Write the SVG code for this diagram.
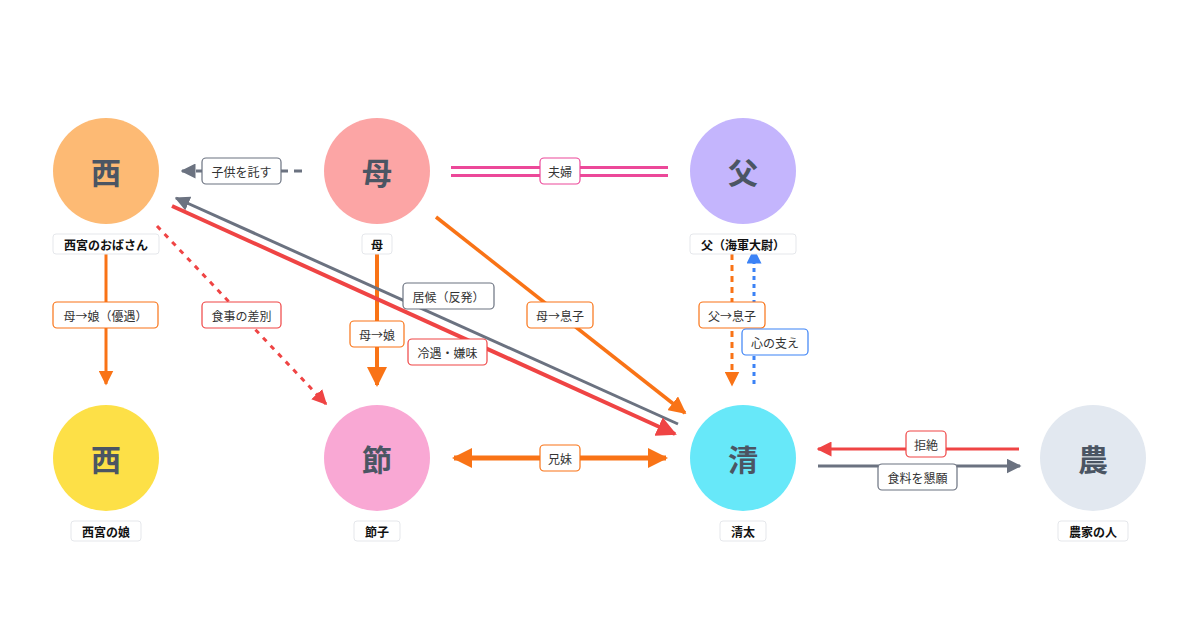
<svg xmlns="http://www.w3.org/2000/svg" width="1200" height="630" viewBox="0 0 1200 630">
<style>
text{font-family:"Noto Sans CJK JP","Noto Sans",sans-serif}
.nt{font-size:30px;font-weight:700;fill:#4b5563;text-anchor:middle;dominant-baseline:central}
.lb{fill:#fff;stroke:#e5e7eb;stroke-width:1}
.lt{font-size:12px;font-weight:700;fill:#111;text-anchor:middle;dominant-baseline:central}
.el{fill:#fff;stroke-width:1.2}
.et{font-size:12px;fill:#333;text-anchor:middle;dominant-baseline:central}
</style>
<defs>
<marker id="ao" viewBox="0 0 10 10" refX="9" refY="5" markerWidth="5" markerHeight="5" orient="auto-start-reverse" markerUnits="strokeWidth"><path d="M0,0L10,5L0,10z" fill="#f97316"/></marker>
<marker id="ao2" viewBox="0 0 10 10" refX="9" refY="5" markerWidth="4" markerHeight="4" orient="auto-start-reverse" markerUnits="strokeWidth"><path d="M0,0L10,5L0,10z" fill="#f97316"/></marker>
<marker id="ar" viewBox="0 0 10 10" refX="9" refY="5" markerWidth="5" markerHeight="5" orient="auto" markerUnits="strokeWidth"><path d="M0,0L10,5L0,10z" fill="#ef4444"/></marker>
<marker id="ag" viewBox="0 0 10 10" refX="9" refY="5" markerWidth="5" markerHeight="5" orient="auto" markerUnits="strokeWidth"><path d="M0,0L10,5L0,10z" fill="#6b7280"/></marker>
<marker id="ab" viewBox="0 0 10 10" refX="9" refY="5" markerWidth="5" markerHeight="5" orient="auto" markerUnits="strokeWidth"><path d="M0,0L10,5L0,10z" fill="#3b82f6"/></marker>
</defs>
<rect width="1200" height="630" fill="#fff"/>
<g id="connectors" fill="none">
<line x1="302" y1="171" x2="182" y2="171" stroke="#6b7280" stroke-width="3" stroke-dasharray="8,6" marker-end="url(#ag)"/>
<line x1="451" y1="167.5" x2="668" y2="167.5" stroke="#ec4899" stroke-width="3"/>
<line x1="451" y1="175.5" x2="668" y2="175.5" stroke="#ec4899" stroke-width="3"/>
<line x1="106" y1="254" x2="106" y2="384" stroke="#f97316" stroke-width="3" marker-end="url(#ao)"/>
<line x1="157" y1="226" x2="326" y2="404" stroke="#ef4444" stroke-width="3" stroke-dasharray="5,6" marker-end="url(#ar)"/>
<line x1="377" y1="254" x2="377" y2="385" stroke="#f97316" stroke-width="4" marker-end="url(#ao)"/>
<line x1="678" y1="424" x2="176" y2="198" stroke="#6b7280" stroke-width="3" marker-end="url(#ag)"/>
<line x1="172" y1="206" x2="675" y2="434" stroke="#ef4444" stroke-width="4" marker-end="url(#ar)"/>
<line x1="436" y1="217" x2="685" y2="413" stroke="#f97316" stroke-width="3.5" marker-end="url(#ao)"/>
<line x1="732" y1="254" x2="732" y2="385" stroke="#f97316" stroke-width="3" stroke-dasharray="6,5" marker-end="url(#ao)"/>
<line x1="754" y1="384" x2="754" y2="250" stroke="#3b82f6" stroke-width="3" stroke-dasharray="4,4" marker-end="url(#ab)"/>
<line x1="454" y1="458" x2="666" y2="458" stroke="#f97316" stroke-width="5" marker-start="url(#ao2)" marker-end="url(#ao2)"/>
<line x1="1019" y1="449" x2="818" y2="449" stroke="#ef4444" stroke-width="3" marker-end="url(#ar)"/>
<line x1="818" y1="466" x2="1020" y2="466" stroke="#6b7280" stroke-width="3" marker-end="url(#ag)"/>
</g>
<g id="edge-labels">
<rect class="el" x="202" y="158" width="79" height="26" rx="4" stroke="#6b7280"/><text class="et" x="241.5" y="171">子供を託す</text>
<rect class="el" x="540" y="158" width="40" height="26" rx="4" stroke="#ec4899"/><text class="et" x="560" y="171">夫婦</text>
<rect class="el" x="53" y="302" width="105" height="26" rx="4" stroke="#f97316"/><text class="et" x="105.5" y="315">母→娘（優遇）</text>
<rect class="el" x="202" y="302" width="79" height="26" rx="4" stroke="#ef4444"/><text class="et" x="241.5" y="315">食事の差別</text>
<rect class="el" x="350" y="321" width="54" height="26" rx="4" stroke="#f97316"/><text class="et" x="377" y="334">母→娘</text>
<rect class="el" x="403" y="283" width="91" height="26" rx="4" stroke="#6b7280"/><text class="et" x="448.5" y="296">居候（反発）</text>
<rect class="el" x="408" y="339" width="79" height="26" rx="4" stroke="#ef4444"/><text class="et" x="447.5" y="352">冷遇・嫌味</text>
<rect class="el" x="527" y="302" width="66" height="26" rx="4" stroke="#f97316"/><text class="et" x="560" y="315">母→息子</text>
<rect class="el" x="699" y="302" width="66" height="26" rx="4" stroke="#f97316"/><text class="et" x="732" y="315">父→息子</text>
<rect class="el" x="742" y="329" width="66" height="26" rx="4" stroke="#3b82f6"/><text class="et" x="775" y="342">心の支え</text>
<rect class="el" x="540" y="445" width="40" height="26" rx="4" stroke="#f97316"/><text class="et" x="560" y="458">兄妹</text>
<rect class="el" x="906" y="431" width="40" height="26" rx="4" stroke="#ef4444"/><text class="et" x="926" y="444">拒絶</text>
<rect class="el" x="878" y="464" width="79" height="26" rx="4" stroke="#6b7280"/><text class="et" x="917.5" y="477">食料を懇願</text>
</g>
<g id="n-nishi"><circle cx="106" cy="171" r="53" fill="#fdba74"/><text class="nt" x="106" y="171">西</text><rect class="lb" x="53" y="234" width="106" height="20" rx="3"/><text class="lt" x="106" y="244">西宮のおばさん</text></g>
<g id="n-haha"><circle cx="377" cy="171" r="53" fill="#fca5a5"/><text class="nt" x="377" y="171">母</text><rect class="lb" x="362" y="234" width="30" height="20" rx="3"/><text class="lt" x="377" y="244">母</text></g>
<g id="n-chichi"><circle cx="743" cy="171" r="53" fill="#c4b5fd"/><text class="nt" x="743" y="171">父</text><rect class="lb" x="690" y="234" width="106" height="20" rx="3"/><text class="lt" x="743" y="244">父（海軍大尉）</text></g>
<g id="n-musume"><circle cx="106" cy="458" r="53" fill="#fde047"/><text class="nt" x="106" y="458">西</text><rect class="lb" x="71" y="521" width="70" height="20" rx="3"/><text class="lt" x="106" y="531">西宮の娘</text></g>
<g id="n-setsuko"><circle cx="377" cy="458" r="53" fill="#f9a8d4"/><text class="nt" x="377" y="458">節</text><rect class="lb" x="354" y="521" width="46" height="20" rx="3"/><text class="lt" x="377" y="531">節子</text></g>
<g id="n-seita"><circle cx="743" cy="458" r="53" fill="#67e8f9"/><text class="nt" x="743" y="458">清</text><rect class="lb" x="720" y="521" width="46" height="20" rx="3"/><text class="lt" x="743" y="531">清太</text></g>
<g id="n-nouka"><circle cx="1093" cy="458" r="53" fill="#e2e8f0"/><text class="nt" x="1093" y="458">農</text><rect class="lb" x="1058" y="521" width="70" height="20" rx="3"/><text class="lt" x="1093" y="531">農家の人</text></g>
</svg>
